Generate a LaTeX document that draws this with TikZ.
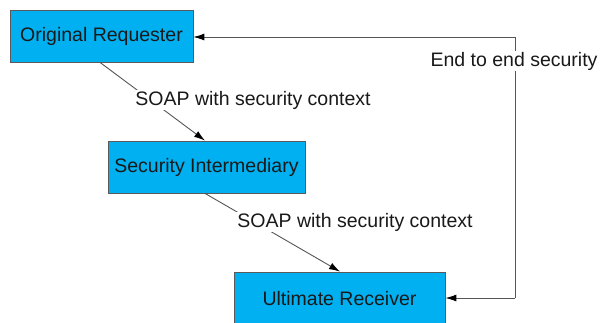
\documentclass[tikz,border=0pt]{standalone}
\usepackage{fontspec}
\setmainfont{Liberation Sans}
\usetikzlibrary{arrows.meta}
\definecolor{boxfill}{RGB}{0,176,240}
\definecolor{boxline}{RGB}{90,90,90}
\definecolor{conn}{RGB}{85,85,85}
\definecolor{txt}{RGB}{25,25,25}
\begin{document}
\begin{tikzpicture}[x=1pt,y=-1pt,
  block/.style={draw=boxline,fill=boxfill,line width=0.8pt,inner sep=0pt,text=txt,font=\fontsize{19.5}{22}\selectfont},
  lbl/.style={fill=white,inner sep=1pt,text=txt,font=\fontsize{19.5}{22}\selectfont},
  conn/.style={draw=conn,line width=0.9pt,-{Latex[length=11pt,width=7pt,color=black]}}]
\useasboundingbox (0,0) rectangle (601,322);
\node[block,minimum width=183pt,minimum height=52pt] (req) at (101.5,36) {Original Requester};
\node[block,minimum width=197pt,minimum height=52pt] (mid) at (206.5,167) {Security Intermediary};
\node[block,minimum width=211pt,minimum height=54pt] (rcv) at (339.5,299) {Ultimate Receiver};
\coordinate (c1) at (515,37);
\coordinate (c2) at (515,298);
\draw[conn] ([xshift=-1.5pt]req.south) -- ([xshift=-1.5pt]mid.north);
\draw[conn] (c2) -- (c1) -- (req.east |- c1);
\draw[conn] (c2) -- (rcv.east |- c2);
\draw[conn] ([xshift=-1.5pt]mid.south) -- ([xshift=0.5pt]rcv.north);
\node[lbl] (l1) at (253,100) {SOAP with security context};
\node[lbl] (l2) at (355,222) {SOAP with security context};
\node[lbl] (l3) at (514,61) {End to end security};
\end{tikzpicture}
\end{document}
